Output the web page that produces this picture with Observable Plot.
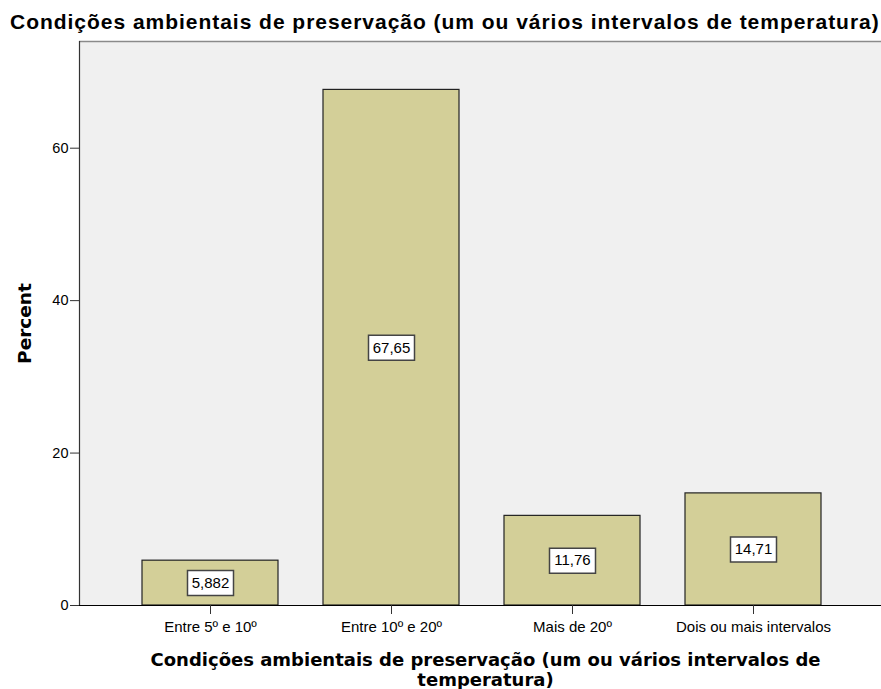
<!DOCTYPE html>
<html>
<head>
<meta charset="utf-8">
<script src="https://cdn.jsdelivr.net/npm/d3@7"></script>
<script src="https://cdn.jsdelivr.net/npm/@observablehq/plot@0.6"></script>
<style>
  body { margin: 0; background: #fff; }
  #wrap { position: relative; width: 881px; height: 689px; }
  #title { position: absolute; left: 10px; top: 10px; font: bold 21px "Liberation Sans", Arial, sans-serif; letter-spacing: 0.97px; white-space: nowrap; color: #000; }
</style>
</head>
<body>
<div id="wrap">
  <div id="chart"></div>
  <div id="title">Condições ambientais de preservação (um ou vários intervalos de temperatura)</div>
</div>
<script>
const categories = ["Entre 5º e 10º", "Entre 10º e 20º", "Mais de 20º", "Dois ou mais intervalos"];
const percents = [5.882, 67.65, 11.76, 14.71];
const valueLabels = ["5,882", "67,65", "11,76", "14,71"];
const yTicks = [0, 20, 40, 60];
const yMax = 74;
const xTitle = "Condições ambientais de preservação (um ou vários intervalos de\ntemperatura)";
const yTitle = "Percent";

const data = categories.map((c, i) => ({cat: c, value: percents[i], label: valueLabels[i]}));

const boxSymbol = {
  draw(ctx) { ctx.rect(-23, -12.5, 46, 25); }
};

const chart = Plot.plot({
  width: 881,
  height: 689,
  marginTop: 41,
  marginLeft: 79,
  marginRight: 0,
  marginBottom: 84,
  style: {fontFamily: "'Liberation Sans', Arial, sans-serif", color: "#000", background: "#fff"},
  x: {type: "band", domain: categories, paddingInner: 0.247, paddingOuter: 0.327, align: 0.51, label: null},
  y: {domain: [0, yMax], label: null},
  marks: [
    Plot.frame({fill: "#f0f0f0", stroke: null}),
    Plot.ruleY([yMax], {stroke: "#8a8a8a", strokeWidth: 1.5}),
    Plot.frame({anchor: "left", stroke: "#333", strokeWidth: 1.2}),
    Plot.barY(data, {x: "cat", y: "value", fill: "#d3cf98", stroke: "#222", strokeWidth: 1.2}),
    Plot.dot(data, {x: "cat", y: d => d.value / 2, symbol: boxSymbol, r: 10, fill: "#fff", stroke: "#444", strokeWidth: 1.5}),
    Plot.text(data, {x: "cat", y: d => d.value / 2, text: "label", fontSize: 15, fill: "#000"}),
    Plot.ruleY([0], {stroke: "#000", strokeWidth: 1.2}),
    Plot.axisY({ticks: yTicks, tickSize: 9, tickPadding: 2, fontSize: 14.5, label: null, stroke: "#333"}),
    Plot.axisX({tickSize: 9, tickPadding: 7, fontSize: 15, label: null, stroke: "#333"}),
    Plot.text([yTitle], {frameAnchor: "left", dx: -54, rotate: -90, textAnchor: "middle", fontSize: 18.5, fontWeight: "bold", fontFamily: "'DejaVu Sans', sans-serif", fill: "#000"}),
    Plot.text([xTitle], {frameAnchor: "bottom", dx: 5, dy: 47, lineAnchor: "top", lineHeight: 1.08, fontSize: 18, fontWeight: "bold", fontFamily: "'DejaVu Sans', sans-serif", fill: "#000"})
  ]
});
document.getElementById("chart").appendChild(chart);
</script>
</body>
</html>
